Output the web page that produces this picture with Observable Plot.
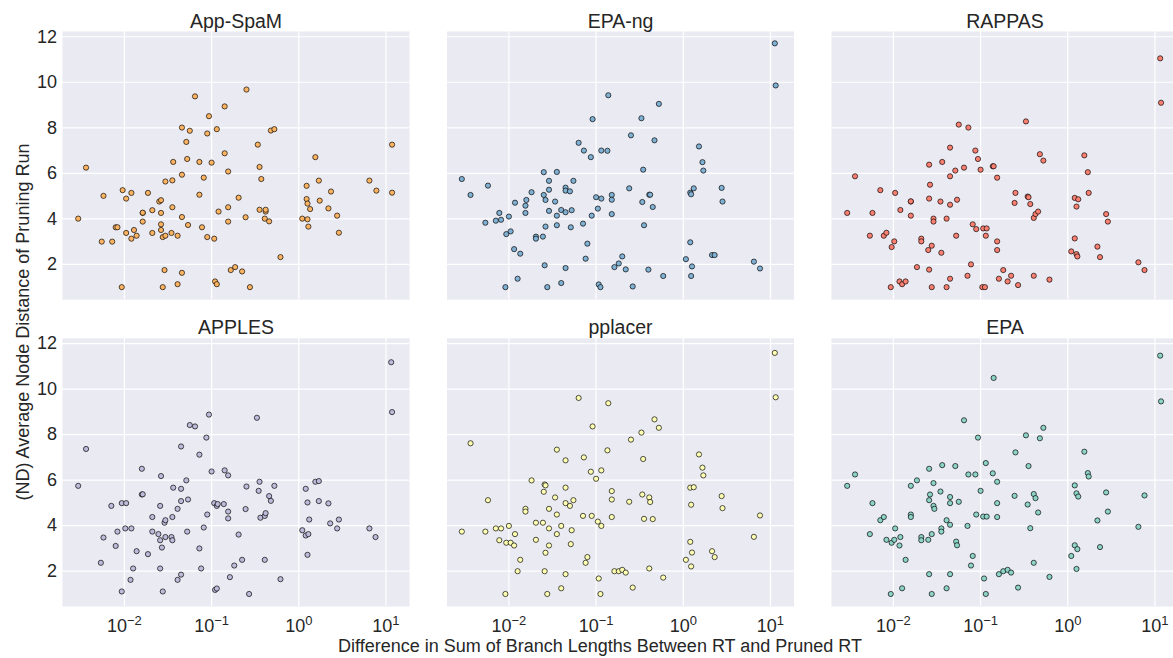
<!DOCTYPE html>
<html>
<head>
<meta charset="utf-8">
<script src="https://cdn.jsdelivr.net/npm/d3@7"></script>
<script src="https://cdn.jsdelivr.net/npm/@observablehq/plot@0.6"></script>
<style>
  html, body { margin: 0; padding: 0; background: white; overflow: hidden; }
  #chart { position: relative; width: 1178px; height: 658px; }
</style>
</head>
<body>
<div id="chart"></div>
<script>
// Each point: [log10(difference in sum of branch lengths), average node distance]
const appSpaM = [[-2.53,4.01],[-2.44,6.25],[-2.26,3.0],[-2.14,3.0],[-2.24,5.01],[-2.10,3.63],[-2.08,3.63],[-2.03,1.0],[-2.02,5.26],[-1.98,3.38],[-1.98,4.89],[-1.92,5.14],[-1.92,3.13],[-1.89,3.51],[-1.86,3.26],[-1.79,4.26],[-1.79,4.27],[-1.79,3.88],[-1.73,5.14],[-1.68,4.38],[-1.68,3.38],[-1.60,4.76],[-1.58,4.82],[-1.58,4.26],[-1.58,3.76],[-1.58,3.51],[-1.56,3.2],[-1.53,3.26],[-1.53,5.64],[-1.54,1.75],[-1.56,1.0],[-1.46,3.38],[-1.45,4.51],[-1.45,5.69],[-1.44,6.5],[-1.39,3.26],[-1.39,1.13],[-1.34,5.94],[-1.34,4.08],[-1.34,1.63],[-1.34,8.01],[-1.29,7.38],[-1.28,6.63],[-1.27,3.73],[-1.25,7.87],[-1.19,9.38],[-1.14,6.5],[-1.14,5.06],[-1.11,3.63],[-1.09,5.81],[-1.05,7.75],[-1.05,3.2],[-1.03,8.51],[-1.0,6.47],[-0.97,3.13],[-0.96,1.25],[-0.94,1.13],[-0.94,7.94],[-0.92,4.32],[-0.85,6.88],[-0.85,8.94],[-0.81,4.51],[-0.81,6.08],[-0.81,3.88],[-0.78,1.75],[-0.73,1.88],[-0.69,4.93],[-0.65,1.69],[-0.61,4.07],[-0.60,9.68],[-0.56,1.0],[-0.47,7.26],[-0.45,4.4],[-0.45,6.28],[-0.43,5.75],[-0.39,4.01],[-0.38,4.32],[-0.38,4.4],[-0.34,3.89],[-0.32,7.88],[-0.28,7.94],[-0.21,2.32],[0.04,4.01],[0.09,5.45],[0.09,4.87],[0.10,4.67],[0.10,3.98],[0.11,3.66],[0.13,4.43],[0.19,6.71],[0.23,5.68],[0.24,4.8],[0.34,4.46],[0.37,5.2],[0.44,4.14],[0.46,3.39],[0.81,5.68],[0.89,5.24],[1.07,7.26],[1.07,5.15]];

const epaNg = [[-2.54,5.75],[-2.44,5.05],[-2.24,5.46],[-2.27,3.83],[-2.15,3.92],[-2.11,4.26],[-2.09,3.96],[-2.03,3.33],[-2.04,1.0],[-2.0,4.1],[-1.98,3.45],[-1.93,4.71],[-1.94,2.67],[-1.90,1.37],[-1.87,2.47],[-1.81,4.26],[-1.81,4.58],[-1.80,4.83],[-1.74,5.17],[-1.69,3.22],[-1.69,3.13],[-1.61,3.22],[-1.60,6.05],[-1.60,5.05],[-1.58,4.83],[-1.58,3.66],[-1.59,1.96],[-1.56,1.0],[-1.54,5.67],[-1.54,5.28],[-1.54,4.35],[-1.47,4.76],[-1.45,4.14],[-1.45,3.72],[-1.45,6.06],[-1.40,4.39],[-1.40,1.18],[-1.35,5.37],[-1.35,5.24],[-1.35,4.29],[-1.35,1.84],[-1.30,5.21],[-1.29,3.63],[-1.28,4.38],[-1.26,5.67],[-1.20,7.34],[-1.15,3.79],[-1.14,7.0],[-1.12,2.25],[-1.10,2.91],[-1.06,6.71],[-1.05,4.14],[-1.04,8.38],[-1.0,4.95],[-0.98,4.45],[-0.97,1.12],[-0.95,1.0],[-0.94,7.0],[-0.94,4.89],[-0.87,6.99],[-0.86,9.43],[-0.82,5.05],[-0.82,4.84],[-0.82,4.21],[-0.79,1.88],[-0.74,2.04],[-0.70,2.35],[-0.66,1.78],[-0.62,5.34],[-0.60,7.67],[-0.58,1.03],[-0.48,8.42],[-0.47,4.74],[-0.46,6.16],[-0.45,3.72],[-0.39,5.06],[-0.38,5.06],[-0.40,1.77],[-0.35,4.52],[-0.33,7.45],[-0.28,9.05],[-0.23,1.49],[0.03,2.23],[0.08,2.97],[0.08,5.15],[0.09,5.08],[0.10,1.91],[0.09,1.49],[0.12,5.34],[0.18,7.18],[0.22,6.49],[0.23,6.12],[0.33,2.41],[0.36,2.41],[0.44,5.36],[0.45,4.76],[0.81,2.12],[0.88,1.82],[1.05,11.71],[1.06,9.86]];

const rappas = [[-2.53,4.26],[-2.44,5.87],[-2.27,3.26],[-2.24,4.26],[-2.15,5.26],[-2.11,3.26],[-2.08,3.39],[-2.02,2.76],[-1.99,3.01],[-1.98,5.14],[-2.03,1.0],[-1.93,1.25],[-1.90,1.13],[-1.86,1.25],[-1.92,4.39],[-1.80,4.76],[-1.80,4.77],[-1.80,4.14],[-1.73,1.88],[-1.68,3.13],[-1.68,3.01],[-1.60,2.63],[-1.59,6.38],[-1.59,4.89],[-1.59,1.77],[-1.58,5.5],[-1.56,2.82],[-1.56,1.0],[-1.54,4.01],[-1.54,3.88],[-1.46,4.76],[-1.45,2.51],[-1.44,6.5],[-1.39,4.01],[-1.39,1.0],[-1.35,7.13],[-1.35,5.87],[-1.35,4.62],[-1.35,1.37],[-1.29,6.12],[-1.28,3.26],[-1.27,4.84],[-1.25,8.14],[-1.19,6.25],[-1.15,1.5],[-1.14,8.01],[-1.11,2.0],[-1.09,3.76],[-1.06,7.0],[-1.05,3.55],[-1.03,6.63],[-1.0,6.16],[-0.97,3.58],[-0.98,1.0],[-0.95,1.0],[-0.93,3.58],[-0.94,3.26],[-0.86,6.31],[-0.85,6.31],[-0.81,5.81],[-0.81,3.01],[-0.81,2.63],[-0.79,1.37],[-0.74,1.75],[-0.69,1.25],[-0.65,1.5],[-0.61,4.7],[-0.60,5.14],[-0.57,1.09],[-0.48,8.28],[-0.46,4.98],[-0.45,4.95],[-0.43,4.65],[-0.39,1.5],[-0.39,4.04],[-0.37,4.21],[-0.34,4.32],[-0.32,6.84],[-0.28,6.56],[-0.21,1.33],[0.04,2.57],[0.08,3.14],[0.08,4.92],[0.10,4.54],[0.10,2.45],[0.11,2.35],[0.12,4.86],[0.19,6.79],[0.23,6.05],[0.24,5.14],[0.34,2.78],[0.37,2.32],[0.44,4.21],[0.46,3.88],[0.81,2.09],[0.88,1.75],[1.06,11.05],[1.07,9.1]];

const apples = [[-2.53,5.75],[-2.44,7.37],[-2.27,2.37],[-2.24,3.48],[-2.15,4.87],[-2.10,3.11],[-2.08,3.74],[-2.03,1.11],[-2.03,4.99],[-1.98,4.99],[-1.99,3.88],[-1.92,3.88],[-1.93,1.62],[-1.90,2.12],[-1.86,2.88],[-1.80,6.5],[-1.80,5.37],[-1.79,5.38],[-1.73,2.75],[-1.68,4.38],[-1.68,3.74],[-1.61,3.63],[-1.59,4.87],[-1.59,3.36],[-1.59,2.12],[-1.58,6.18],[-1.57,3.04],[-1.56,1.11],[-1.54,4.13],[-1.53,4.24],[-1.53,3.5],[-1.46,3.5],[-1.45,3.36],[-1.45,4.38],[-1.44,5.67],[-1.39,4.74],[-1.39,1.62],[-1.35,5.62],[-1.35,5.08],[-1.35,7.48],[-1.35,1.85],[-1.29,5.99],[-1.28,3.74],[-1.27,5.15],[-1.25,8.42],[-1.19,8.36],[-1.14,7.12],[-1.14,3.0],[-1.12,2.12],[-1.09,3.92],[-1.06,7.87],[-1.05,4.49],[-1.03,8.88],[-1.0,6.38],[-0.97,4.99],[-0.96,1.18],[-0.94,1.24],[-0.94,4.87],[-0.93,4.95],[-0.86,4.95],[-0.85,6.43],[-0.81,4.62],[-0.81,6.21],[-0.81,4.32],[-0.79,1.74],[-0.74,2.25],[-0.69,3.61],[-0.65,2.5],[-0.61,4.73],[-0.60,5.72],[-0.57,1.0],[-0.48,8.74],[-0.46,5.53],[-0.45,5.93],[-0.44,4.35],[-0.39,4.43],[-0.38,4.55],[-0.39,2.5],[-0.34,5.3],[-0.32,5.09],[-0.28,5.75],[-0.21,1.65],[0.04,3.8],[0.08,5.62],[0.08,3.57],[0.10,5.02],[0.10,2.72],[0.11,3.63],[0.12,4.27],[0.19,5.93],[0.23,5.96],[0.23,5.08],[0.34,4.98],[0.36,4.1],[0.44,3.88],[0.46,4.27],[0.81,3.88],[0.88,3.5],[1.06,11.18],[1.07,8.99]];

const pplacer = [[-2.54,3.74],[-2.44,7.62],[-2.27,3.74],[-2.24,5.12],[-2.15,3.88],[-2.11,3.36],[-2.09,3.88],[-2.03,3.25],[-2.04,1.0],[-2.0,3.99],[-1.98,3.25],[-1.93,3.63],[-1.94,3.13],[-1.90,2.0],[-1.87,2.5],[-1.81,4.74],[-1.81,4.62],[-1.74,5.99],[-1.69,4.13],[-1.69,3.38],[-1.61,4.13],[-1.60,5.49],[-1.59,5.81],[-1.58,5.77],[-1.59,2.0],[-1.58,2.81],[-1.56,1.0],[-1.54,4.74],[-1.54,3.88],[-1.54,3.13],[-1.47,5.24],[-1.45,4.49],[-1.45,3.63],[-1.45,7.34],[-1.40,3.99],[-1.40,1.25],[-1.35,6.87],[-1.35,4.99],[-1.35,5.67],[-1.35,1.87],[-1.30,4.87],[-1.29,3.19],[-1.28,3.8],[-1.26,5.12],[-1.20,9.61],[-1.15,4.43],[-1.14,7.0],[-1.12,2.37],[-1.10,2.62],[-1.06,6.37],[-1.05,4.43],[-1.04,8.36],[-1.0,6.06],[-0.98,4.18],[-0.97,1.68],[-0.95,1.0],[-0.94,6.43],[-0.94,3.99],[-0.87,7.31],[-0.86,9.38],[-0.82,5.52],[-0.82,5.15],[-0.82,4.38],[-0.79,2.0],[-0.74,2.0],[-0.70,2.06],[-0.66,1.94],[-0.62,5.05],[-0.60,7.78],[-0.58,1.28],[-0.48,8.09],[-0.47,5.37],[-0.46,6.93],[-0.45,4.3],[-0.39,5.24],[-0.38,5.04],[-0.39,2.12],[-0.35,4.29],[-0.33,8.67],[-0.28,8.3],[-0.23,1.72],[0.03,2.5],[0.08,3.29],[0.08,5.67],[0.12,5.69],[0.09,4.92],[0.10,2.82],[0.09,2.21],[0.18,7.13],[0.22,6.55],[0.23,6.21],[0.33,2.88],[0.36,2.62],[0.44,5.3],[0.45,4.77],[0.81,3.51],[0.88,4.45],[1.05,11.59],[1.06,9.64]];

const epa = [[-2.53,5.75],[-2.44,6.25],[-2.27,3.63],[-2.24,4.99],[-2.15,4.24],[-2.11,4.38],[-2.08,3.38],[-2.02,3.25],[-1.99,3.38],[-1.98,3.88],[-2.03,1.0],[-1.92,3.5],[-1.93,3.13],[-1.90,1.25],[-1.86,2.5],[-1.80,4.49],[-1.80,4.38],[-1.80,5.75],[-1.73,5.99],[-1.68,3.5],[-1.68,3.36],[-1.60,3.38],[-1.59,6.5],[-1.59,5.12],[-1.59,1.87],[-1.58,5.37],[-1.56,3.63],[-1.56,1.0],[-1.54,4.87],[-1.53,4.74],[-1.54,5.87],[-1.46,5.5],[-1.45,3.88],[-1.45,3.74],[-1.44,6.66],[-1.39,4.24],[-1.39,1.25],[-1.35,5.26],[-1.35,4.99],[-1.35,4.04],[-1.35,1.87],[-1.29,6.62],[-1.28,3.3],[-1.27,3.14],[-1.25,5.05],[-1.19,8.63],[-1.15,3.99],[-1.14,6.25],[-1.11,2.25],[-1.09,2.67],[-1.06,6.25],[-1.05,4.49],[-1.03,7.87],[-1.0,5.53],[-0.97,4.4],[-0.96,1.68],[-0.94,1.0],[-0.93,4.4],[-0.94,6.75],[-0.86,6.3],[-0.85,10.49],[-0.81,5.93],[-0.81,4.99],[-0.81,4.38],[-0.79,1.87],[-0.74,2.0],[-0.69,2.06],[-0.65,1.94],[-0.61,5.31],[-0.60,7.22],[-0.57,1.28],[-0.48,7.97],[-0.46,4.93],[-0.45,6.62],[-0.43,3.89],[-0.39,2.37],[-0.39,5.39],[-0.37,5.21],[-0.34,4.58],[-0.32,7.84],[-0.28,8.3],[-0.21,1.75],[0.04,2.67],[0.08,5.77],[0.08,3.14],[0.10,5.42],[0.11,2.97],[0.10,2.1],[0.12,5.28],[0.19,7.25],[0.23,6.31],[0.24,6.16],[0.34,4.23],[0.37,3.06],[0.44,5.46],[0.46,4.62],[0.81,3.95],[0.88,5.33],[1.06,11.47],[1.07,9.46]];

const methods = ["App-SpaM", "EPA-ng", "RAPPAS", "APPLES", "pplacer", "EPA"];
const methodColors = ["#fdb462", "#80b1d3", "#fb8072", "#bebada", "#ffffb3", "#8dd3c7"];
const seriesList = [appSpaM, epaNg, rappas, apples, pplacer, epa];
const xTicks = [0.01, 0.1, 1, 10];
const xTickExponents = ["\u22122", "\u22121", "0", "1"];
const yTicks = [2, 4, 6, 8, 10, 12];
const xTitle = "Difference in Sum of Branch Lengths Between RT and Pruned RT";
const yTitle = "(ND) Average Node Distance of Pruning Run";

const panels = methods.map((m, i) => ({method: m, col: i % 3, row: Math.floor(i / 3)}));
const points = seriesList.flatMap((s, i) =>
  s.map(([lx, nd]) => ({method: methods[i], col: i % 3, row: Math.floor(i / 3), diff: Math.pow(10, lx), nd}))
);

const font = "'Liberation Sans', Arial, sans-serif";
const textColor = "#262626";

const svg = Plot.plot({
  width: 1178,
  height: 658,
  marginLeft: 62,
  marginRight: 0,
  marginTop: 31,
  marginBottom: 52,
  style: {fontFamily: font, fontSize: "18px", color: textColor, background: "white"},
  x: {type: "log", domain: [Math.pow(10, -2.71), Math.pow(10, 1.27)]},
  y: {domain: [0.45, 12.23]},
  fx: {domain: [0, 1, 2], paddingInner: 0.0975, paddingOuter: 0, round: false, axis: null},
  fy: {domain: [0, 1], paddingInner: 0.126, paddingOuter: 0, round: false, axis: null},
  color: {domain: methods, range: methodColors},
  marks: [
    Plot.frame({fill: "#eaeaf2", stroke: null}),
    Plot.gridX({ticks: xTicks, stroke: "white", strokeOpacity: 1, strokeWidth: 1.2}),
    Plot.gridY({ticks: yTicks, stroke: "white", strokeOpacity: 1, strokeWidth: 1.2}),
    Plot.axisX({ticks: xTicks, tickSize: 0, tickPadding: 12.5, fontSize: 18, label: null,
      tickFormat: d => "10^" + xTickExponents[Math.round(Math.log10(d)) + 2]}),
    Plot.axisY({ticks: yTicks, tickSize: 0, tickPadding: 5.5, fontSize: 18, label: null}),
    Plot.dot(points, {x: "diff", y: "nd", fx: "col", fy: "row", fill: "method",
      r: 2.6, stroke: "black", strokeOpacity: 0.85, strokeWidth: 0.8}),
    Plot.text(panels, {fx: "col", fy: "row", text: "method", frameAnchor: "top",
      lineAnchor: "bottom", dy: -4, fontSize: 19.5, fill: textColor})
  ]
});

const sel = d3.select(svg);
// render the x tick labels as 10 with a raised exponent
sel.selectAll("g[aria-label='x-axis tick label'] text").each(function() {
  const t = d3.select(this);
  const parts = t.text().split("^");
  t.text(null);
  t.append("tspan").text(parts[0]);
  t.append("tspan").attr("dy", "-0.55em").attr("font-size", "0.72em").text(parts[1]);
});
sel.append("text")
  .attr("x", 600).attr("y", 652)
  .attr("text-anchor", "middle")
  .attr("font-family", font).attr("font-size", 18).attr("fill", textColor)
  .text(xTitle);
sel.append("text")
  .attr("transform", "translate(29,322) rotate(-90)")
  .attr("text-anchor", "middle")
  .attr("font-family", font).attr("font-size", 18).attr("fill", textColor)
  .text(yTitle);

document.getElementById("chart").appendChild(svg);
</script>
</body>
</html>
